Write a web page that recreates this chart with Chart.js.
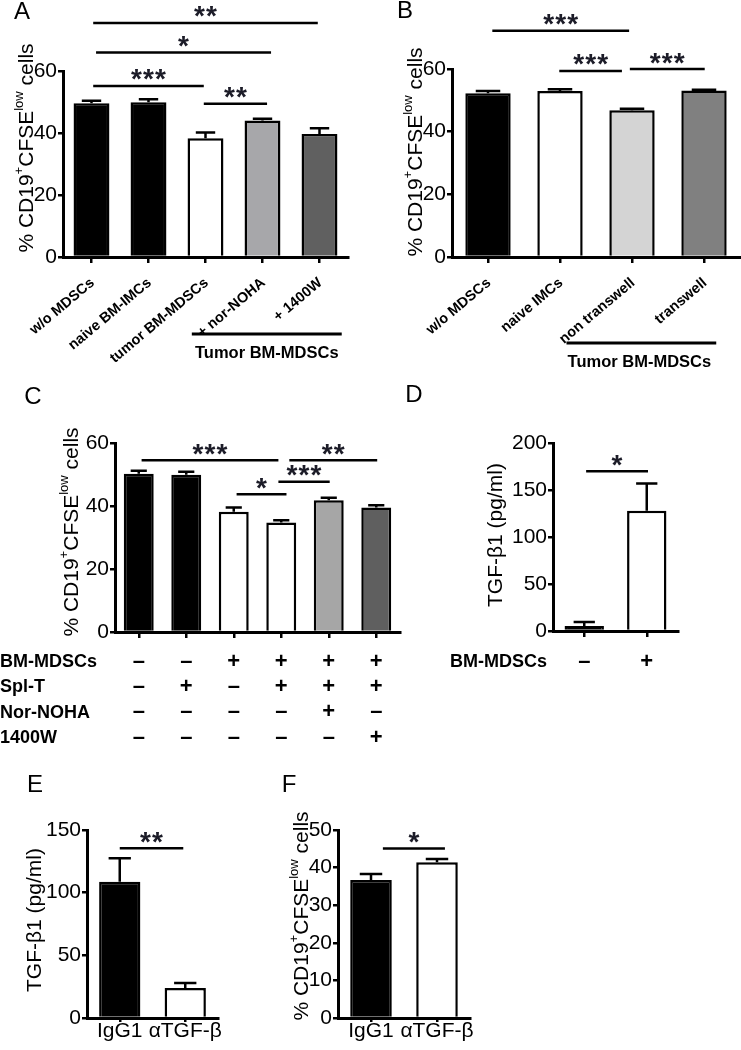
<!DOCTYPE html>
<html>
<head>
<meta charset="utf-8">
<script src="https://cdn.jsdelivr.net/npm/chart.js@4.4.1/dist/chart.umd.min.js"></script>
<style>
  body { margin: 0; background: #fff; width: 741px; height: 1050px; position: relative; overflow: hidden; }
  canvas { position: absolute; left: 0; top: 0; }
</style>
</head>
<body>
<script>
const FONT = "'Liberation Sans', Arial, sans-serif";

// ---- data ----
// A
const aLabels = ['w/o MDSCs', 'naive BM-IMCs', 'tumor BM-MDSCs', '+ nor-NOHA', '+ 1400W'];
const aMeans = [49.6, 49.9, 38.3, 44.0, 39.7];
const aSem = [0.8, 1.0, 1.9, 0.6, 1.8];
const aColors = ['#000000', '#000000', '#ffffff', '#a7a7aa', '#606060'];
const aSig = [[0.03, 3.97, 75.5, '**'], [0.08, 3.15, 66, '*'], [0.03, 1.97, 55.2, '***'], [1.97, 3.08, 49.4, '**']];

// B
const bLabels = ['w/o MDSCs', 'naive IMCs', 'non transwell', 'transwell'];
const bMeans = [52.3, 53.0, 46.8, 53.1];
const bSem = [0.7, 0.5, 0.5, 0.3];
const bColors = ['#000000', '#ffffff', '#d4d4d4', '#808080'];
const bSig = [[0.06, 1.96, 72.2, '***'], [0.99, 1.86, 59.4, '***'], [1.97, 3.01, 60, '***']];

// C
const cRows = ['BM-MDSCs', 'Spl-T', 'Nor-NOHA', '1400W'];
const cSigns = [
  ['\u2013', '\u2013', '+', '+', '+', '+'],
  ['\u2013', '+', '\u2013', '+', '+', '+'],
  ['\u2013', '\u2013', '\u2013', '\u2013', '+', '\u2013'],
  ['\u2013', '\u2013', '\u2013', '\u2013', '\u2013', '+']
];
const cMeans = [50.2, 49.9, 38.2, 34.8, 41.8, 39.5];
const cSem = [1.0, 1.0, 1.3, 0.7, 0.8, 0.7];
const cColors = ['#000000', '#000000', '#ffffff', '#ffffff', '#a6a6a6', '#5f5f5f'];
const cSig = [[0.06, 2.94, 54.5, '***'], [3.17, 5.02, 54.5, '**'], [2.94, 4.02, 47.7, '***'], [2.06, 3.11, 43.7, '*']];

// D
const dLabels = ['\u2013', '+'];
const dMeans = [5.3, 127.9];
const dSem = [4.3, 29];
const dColors = ['#000000', '#ffffff'];
const dSig = [[0.03, 1.02, 170, '*']];

// E
const eLabels = ['IgG1', '\u03b1TGF-\u03b2'];
const eMeans = [108.8, 23.9];
const eSem = [18.6, 4.0];
const eColors = ['#000000', '#ffffff'];
const eSig = [[0, 0.97, 135.4, '**']];

// F
const fLabels = ['IgG1', '\u03b1TGF-\u03b2'];
const fMeans = [36.7, 41.4];
const fSem = [1.6, 0.9];
const fColors = ['#000000', '#ffffff'];
const fSig = [[0.18, 1.12, 45.1, '*']];

const CD19_TITLE = [['% CD19', 0], ['+', 1], ['CFSE', 0], ['low', 1], [' cells', 0]];
const TGF_TITLE = [['TGF-\u03b21 (pg/ml)', 0]];

const YW = 50;

function drawTitle(ctx, parts, cx, cy, size) {
  ctx.save();
  ctx.translate(cx, cy);
  ctx.rotate(-Math.PI / 2);
  ctx.fillStyle = '#000';
  ctx.textBaseline = 'middle';
  ctx.textAlign = 'left';
  const sup = Math.round(size * 0.62);
  let total = 0;
  parts.forEach(([t, s]) => { ctx.font = (s ? sup : size) + 'px ' + FONT; total += ctx.measureText(t).width; });
  let x = -total / 2;
  parts.forEach(([t, s]) => {
    ctx.font = (s ? sup : size) + 'px ' + FONT;
    ctx.fillText(t, x, s ? -size * 0.38 : 0);
    x += ctx.measureText(t).width;
  });
  ctx.restore();
}

function panelPlugin(p) {
  return {
    id: 'panel' + p.letter,
    afterDraw(chart) {
      const ctx = chart.ctx;
      const xs = chart.scales.x, ys = chart.scales.y;
      const meta = chart.getDatasetMeta(0);
      const y0 = ys.getPixelForValue(0);
      ctx.save();
      ctx.strokeStyle = '#000';
      ctx.lineWidth = 2.5;
      // error bars (mean + SEM)
      meta.data.forEach((el, i) => {
        const top = ys.getPixelForValue(p.means[i] + p.sem[i]);
        const hw = el.width * 0.27;
        ctx.beginPath();
        ctx.moveTo(el.x, el.y);
        ctx.lineTo(el.x, top);
        ctx.moveTo(el.x - hw, top);
        ctx.lineTo(el.x + hw, top);
        ctx.stroke();
      });
      // significance bars
      ctx.fillStyle = '#1c1c28';
      ctx.textAlign = 'center';
      ctx.textBaseline = 'alphabetic';
      ctx.font = 'bold 28px ' + FONT;
      const m = ctx.measureText('*');
      const lift = (m.actualBoundingBoxAscent - m.actualBoundingBoxDescent) / 2;
      p.sig.forEach(([a, b, v, txt]) => {
        const x1 = xs.getPixelForValue(a), x2 = xs.getPixelForValue(b), y = ys.getPixelForValue(v);
        ctx.beginPath();
        ctx.moveTo(x1, y);
        ctx.lineTo(x2, y);
        ctx.stroke();
        const n = txt.length, gap = 12, mid = (x1 + x2) / 2;
        for (let k = 0; k < n; k++) {
          ctx.fillText('*', mid + (k - (n - 1) / 2) * gap, y - 11 + lift);
        }
      });
      // slanted category names (A, B)
      if (p.slanted) {
        ctx.fillStyle = '#000';
        ctx.font = 'bold 14.5px ' + FONT;
        ctx.textAlign = 'right';
        ctx.textBaseline = 'middle';
        p.labels.forEach((lab, i) => {
          ctx.save();
          ctx.translate(xs.getPixelForValue(i) + 1, y0 + 24);
          ctx.rotate(-40 * Math.PI / 180);
          ctx.fillText(lab, 0, 0);
          ctx.restore();
        });
      }
      // group bracket under the x labels
      if (p.group) {
        const g = p.group;
        const x1 = xs.getPixelForValue(g.from), x2 = xs.getPixelForValue(g.to);
        const y = y0 + g.dy;
        ctx.lineWidth = 3;
        ctx.beginPath();
        ctx.moveTo(x1, y);
        ctx.lineTo(x2, y);
        ctx.stroke();
        ctx.fillStyle = '#000';
        ctx.font = 'bold 16.5px ' + FONT;
        ctx.textAlign = 'center';
        ctx.textBaseline = 'middle';
        ctx.fillText(g.text, (x1 + x2) / 2 + (g.shift || 0), y + 19);
      }
      // row labels at left of the +/- table
      if (p.rows) {
        ctx.fillStyle = '#000';
        ctx.font = 'bold 18px ' + FONT;
        ctx.textAlign = 'left';
        ctx.textBaseline = 'middle';
        p.rows.forEach((r, k) => ctx.fillText(r, p.rowX, y0 + p.rowStart + k * p.rowStep));
      }
      // panel letter
      ctx.fillStyle = '#000';
      ctx.font = '24px ' + FONT;
      ctx.textAlign = 'center';
      ctx.textBaseline = 'middle';
      ctx.fillText(p.letter, p.lx, p.ly);
      ctx.restore();
      drawTitle(ctx, p.title, p.tx, p.ty, 21);
    }
  };
}

function makePanel(p) {
  const cv = document.createElement('canvas');
  cv.width = 741; cv.height = 1050;
  cv.style.width = '741px'; cv.style.height = '1050px';
  document.body.appendChild(cv);
  return new Chart(cv, {
    type: 'bar',
    data: {
      labels: p.labels,
      datasets: [{
        data: p.means,
        backgroundColor: p.colors,
        borderColor: '#000',
        borderWidth: 2.5,
        borderSkipped: 'bottom',
        barPercentage: 0.63,
        categoryPercentage: 1
      }]
    },
    options: {
      responsive: false,
      animation: false,
      devicePixelRatio: 1,
      layout: { padding: { left: p.x0 - YW, right: 741 - p.x1, top: p.yTop, bottom: 1050 - p.yBottom - p.xh } },
      plugins: { legend: { display: false }, tooltip: { enabled: false } },
      scales: {
        x: {
          offset: true,
          border: { display: true, color: '#000', width: 3 },
          grid: { display: true, drawOnChartArea: false, drawTicks: true, offset: false, tickLength: p.xTick || 6, color: '#000', lineWidth: 2.5 },
          ticks: Object.assign({ color: '#000', autoSkip: false, maxRotation: 0, minRotation: 0, display: !p.slanted }, p.xTicks),
          afterFit: s => { s.height = p.xh; }
        },
        y: {
          min: 0, max: p.max,
          border: { display: true, color: '#000', width: 3 },
          grid: { display: true, drawOnChartArea: false, drawTicks: true, tickLength: 5, color: '#000', lineWidth: 2.5 },
          ticks: { stepSize: p.step, color: '#000', padding: 1, font: { family: FONT, size: 21 } },
          afterFit: s => { s.width = YW; }
        }
      }
    },
    plugins: [panelPlugin(p)]
  });
}

const signTicks = pad => ({ font: { family: FONT, size: 22, weight: 'bold', lineHeight: 1.15 }, padding: pad });

makePanel({ letter: 'A', lx: 22, ly: 12, labels: aLabels, means: aMeans, sem: aSem, colors: aColors, sig: aSig,
  x0: 63, x1: 348, yTop: 71, yBottom: 257, xh: 40, max: 60, step: 20, slanted: true,
  title: CD19_TITLE, tx: 27, ty: 148, group: { from: 1.76, to: 4.39, dy: 77, text: 'Tumor BM-MDSCs' } });

makePanel({ letter: 'B', lx: 405, ly: 11, labels: bLabels, means: bMeans, sem: bSem, colors: bColors, sig: bSig,
  x0: 452, x1: 740, yTop: 69, yBottom: 257, xh: 40, max: 60, step: 20, slanted: true,
  title: CD19_TITLE, tx: 416, ty: 152, group: { from: 1.09, to: 3.17, dy: 86, text: 'Tumor BM-MDSCs', shift: -2 } });

makePanel({ letter: 'C', lx: 33, ly: 397,
  labels: cMeans.map((_, i) => cSigns.map(r => r[i])), means: cMeans, sem: cSem, colors: cColors, sig: cSig,
  x0: 115, x1: 400, yTop: 443, yBottom: 632, xh: 130, max: 60, step: 20, xTicks: signTicks(11),
  rows: cRows, rowX: 0, rowStart: 30, rowStep: 25.3,
  title: CD19_TITLE, tx: 72, ty: 532 });

makePanel({ letter: 'D', lx: 414, ly: 395, labels: dLabels, means: dMeans, sem: dSem, colors: dColors, sig: dSig,
  x0: 553, x1: 678, yTop: 443, yBottom: 631, xh: 60, max: 200, step: 50, xTicks: signTicks(12),
  rows: ['BM-MDSCs'], rowX: 450, rowStart: 31, rowStep: 25,
  title: TGF_TITLE, tx: 496, ty: 535 });

makePanel({ letter: 'E', lx: 35, ly: 785, labels: eLabels, means: eMeans, sem: eSem, colors: eColors, sig: eSig,
  x0: 87, x1: 218, yTop: 830, yBottom: 1018, xh: 32, max: 150, step: 50, xTick: 4,
  xTicks: { font: { family: FONT, size: 21 }, padding: -3 },
  title: TGF_TITLE, tx: 35, ty: 920 });

makePanel({ letter: 'F', lx: 289, ly: 785, labels: fLabels, means: fMeans, sem: fSem, colors: fColors, sig: fSig,
  x0: 338, x1: 470, yTop: 830, yBottom: 1018, xh: 32, max: 50, step: 10, xTick: 4,
  xTicks: { font: { family: FONT, size: 21 }, padding: -3 },
  title: CD19_TITLE, tx: 302, ty: 916 });
</script>
</body>
</html>
